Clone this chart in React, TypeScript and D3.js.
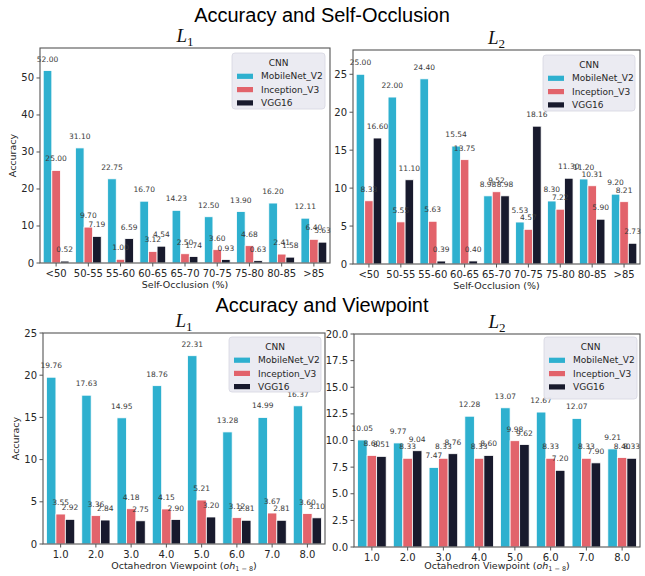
import React from "react";
import * as d3 from "d3";

// Category labels
const occlusionBins = ["<50", "50-55", "55-60", "60-65", "65-70", "70-75", "75-80", "80-85", ">85"];
const viewpoints = ["1.0", "2.0", "3.0", "4.0", "5.0", "6.0", "7.0", "8.0"];
const models = ["MobileNet_V2", "Inception_V3", "VGG16"];
const modelColors = ["#2eb0cf", "#e2636b", "#181a2d"];

// Accuracy by self-occlusion, L1
const occL1Mobile = [52.0, 31.1, 22.75, 16.7, 14.23, 12.5, 13.9, 16.2, 12.11];
const occL1Inception = [25.0, 9.7, 1.0, 3.12, 2.5, 3.6, 4.68, 2.41, 6.4];
const occL1Vgg = [0.52, 7.19, 6.59, 4.54, 1.74, 0.93, 0.63, 1.58, 5.63];

// Accuracy by self-occlusion, L2
const occL2Mobile = [25.0, 22.0, 24.4, 15.54, 8.98, 5.53, 8.3, 11.2, 9.2];
const occL2Inception = [8.33, 5.55, 5.63, 13.75, 9.52, 4.57, 7.22, 10.31, 8.21];
const occL2Vgg = [16.6, 11.1, 0.39, 0.4, 8.98, 18.16, 11.3, 5.9, 2.73];

// Accuracy by octahedron viewpoint, L1
const viewL1Mobile = [19.76, 17.63, 14.95, 18.76, 22.31, 13.28, 14.99, 16.37];
const viewL1Inception = [3.55, 3.36, 4.18, 4.15, 5.21, 3.12, 3.67, 3.6];
const viewL1Vgg = [2.92, 2.84, 2.75, 2.9, 3.2, 2.81, 2.81, 3.1];

// Accuracy by octahedron viewpoint, L2
const viewL2Mobile = [10.05, 9.77, 7.47, 12.28, 13.07, 12.67, 12.07, 9.21];
const viewL2Inception = [8.6, 8.33, 8.33, 8.33, 9.98, 8.33, 8.33, 8.4];
const viewL2Vgg = [8.51, 9.04, 8.76, 8.6, 9.62, 7.2, 7.9, 8.33];

// Y axis ticks
const ticksOccL1 = [0, 10, 20, 30, 40, 50];
const ticksOccL2 = [0, 5, 10, 15, 20, 25];
const ticksViewL1 = [0, 5, 10, 15, 20, 25];
const ticksViewL2 = [0, 2.5, 5, 7.5, 10, 12.5, 15, 17.5, 20];

const SANS = "DejaVu Sans, sans-serif";

type PanelProps = {
  box: { left: number; top: number; right: number; bottom: number };
  yMax: number;
  yTicks: number[];
  tickFmt: (v: number) => string;
  categories: string[];
  series: number[][];
  sub: string;
  xLabel: React.ReactNode;
  xLabelY: number;
  yLabel?: string;
  legend: { x: number; y: number; w: number; h: number; step: number };
};

function Panel({ box, yMax, yTicks, tickFmt, categories, series, sub, xLabel, xLabelY, yLabel, legend }: PanelProps) {
  const x = d3.scaleBand<string>().domain(categories).range([box.left, box.right]).padding(0);
  const y = d3.scaleLinear().domain([0, yMax]).range([box.bottom, box.top]);
  const group = d3
    .scaleBand<string>()
    .domain(models)
    .range([x.bandwidth() * 0.1, x.bandwidth() * 0.9])
    .padding(0);
  const cx = (box.left + box.right) / 2;
  return (
    <g>
      <rect x={box.left} y={box.top} width={box.right - box.left} height={box.bottom - box.top} fill="#ffffff" />
      {series.map((vals, si) =>
        vals.map((v, ci) => {
          const bx = (x(categories[ci]) as number) + (group(models[si]) as number);
          return (
            <rect
              key={`b${si}-${ci}`}
              x={bx}
              y={y(v)}
              width={group.bandwidth()}
              height={y(0) - y(v)}
              fill={modelColors[si]}
              stroke="#ffffff"
              strokeWidth={0.8}
            />
          );
        })
      )}
      {series.map((vals, si) =>
        vals.map((v, ci) => {
          const bx = (x(categories[ci]) as number) + (group(models[si]) as number) + group.bandwidth() / 2;
          return (
            <text
              key={`t${si}-${ci}`}
              x={bx}
              y={y(v) - 9}
              fontSize={7.5}
              fontFamily={SANS}
              fill="#3a3a3a"
              textAnchor="middle"
            >
              {v.toFixed(2)}
            </text>
          );
        })
      )}
      <rect
        x={box.left}
        y={box.top}
        width={box.right - box.left}
        height={box.bottom - box.top}
        fill="none"
        stroke="#555555"
        strokeWidth={1.1}
      />
      {yTicks.map((t) => (
        <g key={`yt${t}`}>
          <line x1={box.left - 3.5} x2={box.left} y1={y(t)} y2={y(t)} stroke="#555555" />
          <text x={box.left - 6} y={y(t)} dy="0.35em" fontSize={10} fontFamily={SANS} fill="#262626" textAnchor="end">
            {tickFmt(t)}
          </text>
        </g>
      ))}
      {categories.map((c) => {
        const tx = (x(c) as number) + x.bandwidth() / 2;
        return (
          <g key={`xt${c}`}>
            <line x1={tx} x2={tx} y1={box.bottom} y2={box.bottom + 3.5} stroke="#555555" />
            <text x={tx} y={box.bottom + 14} fontSize={10} fontFamily={SANS} fill="#262626" textAnchor="middle">
              {c}
            </text>
          </g>
        );
      })}
      <text x={cx} y={xLabelY} fontSize={9.5} fontFamily={SANS} fill="#262626" textAnchor="middle">
        {xLabel}
      </text>
      {yLabel && (
        <text
          transform={`translate(${box.left - 24},${(box.top + box.bottom) / 2}) rotate(-90)`}
          fontSize={9.5}
          fontFamily={SANS}
          fill="#262626"
          textAnchor="middle"
        >
          {yLabel}
        </text>
      )}
      <text x={cx} y={box.top - 6} fontSize={19} fontFamily="Liberation Serif, serif" fontStyle="italic" fill="#111" textAnchor="middle">
        L
        <tspan fontSize={13} fontStyle="normal" dy={4}>
          {sub}
        </tspan>
      </text>
      <g>
        <rect x={legend.x} y={legend.y} width={legend.w} height={legend.h} rx={3} fill="#eaeaf2" stroke="#d6d6e0" strokeWidth={0.8} opacity={0.95} />
        <text x={legend.x + legend.w / 2} y={legend.y + 10} dy="0.35em" fontSize={9} fontFamily={SANS} fill="#262626" textAnchor="middle">
          CNN
        </text>
        {models.map((m, i) => (
          <g key={m} transform={`translate(${legend.x + 5},${legend.y + 10 + legend.step * (i + 1)})`}>
            <rect x={0} y={-2.6} width={16} height={5.2} fill={modelColors[i]} />
            <text x={24} y={0} dy="0.35em" fontSize={9} fontFamily={SANS} fill="#262626">
              {m}
            </text>
          </g>
        ))}
      </g>
    </g>
  );
}

const octLabel = (
  <>
    Octahedron Viewpoint (
    <tspan fontStyle="italic">oh</tspan>
    <tspan fontSize={6.5} dy={2}>
      1 − 8
    </tspan>
    <tspan dy={-2}>)</tspan>
  </>
);

export default function App() {
  const intFmt = (v: number) => d3.format("d")(v);
  const oneFmt = (v: number) => d3.format(".1f")(v);
  return (
    <svg
      width={645}
      height={576}
      style={{ position: "absolute", left: 0, top: 0, background: "#ffffff" }}
    >
      <rect width={645} height={576} fill="#ffffff" />
      <text x={322} y={22} fontSize={20} fontFamily="Liberation Sans, Arial, sans-serif" fill="#000" textAnchor="middle">
        Accuracy and Self-Occlusion
      </text>
      <text x={322} y={312} fontSize={20} fontFamily="Liberation Sans, Arial, sans-serif" fill="#000" textAnchor="middle">
        Accuracy and Viewpoint
      </text>
      <Panel
        box={{ left: 40, top: 48, right: 330, bottom: 263 }}
        yMax={58.1}
        yTicks={ticksOccL1}
        tickFmt={intFmt}
        categories={occlusionBins}
        series={[occL1Mobile, occL1Inception, occL1Vgg]}
        sub="1"
        xLabel="Self-Occlusion (%)"
        xLabelY={288}
        yLabel="Accuracy"
        legend={{ x: 232, y: 53, w: 93, h: 56, step: 13.3 }}
      />
      <Panel
        box={{ left: 353, top: 50, right: 640, bottom: 264 }}
        yMax={28.2}
        yTicks={ticksOccL2}
        tickFmt={intFmt}
        categories={occlusionBins}
        series={[occL2Mobile, occL2Inception, occL2Vgg]}
        sub="2"
        xLabel="Self-Occlusion (%)"
        xLabelY={289}
        legend={{ x: 543, y: 55, w: 92, h: 56, step: 13.3 }}
      />
      <Panel
        box={{ left: 43, top: 333, right: 325, bottom: 544 }}
        yMax={25}
        yTicks={ticksViewL1}
        tickFmt={intFmt}
        categories={viewpoints}
        series={[viewL1Mobile, viewL1Inception, viewL1Vgg]}
        sub="1"
        xLabel={octLabel}
        xLabelY={569}
        yLabel="Accuracy"
        legend={{ x: 229, y: 337, w: 92, h: 55, step: 13.2 }}
      />
      <Panel
        box={{ left: 354, top: 334, right: 640, bottom: 547 }}
        yMax={20}
        yTicks={ticksViewL2}
        tickFmt={oneFmt}
        categories={viewpoints}
        series={[viewL2Mobile, viewL2Inception, viewL2Vgg]}
        sub="2"
        xLabel={octLabel}
        xLabelY={569}
        legend={{ x: 544, y: 337, w: 93, h: 62, step: 13.3 }}
      />
    </svg>
  );
}
